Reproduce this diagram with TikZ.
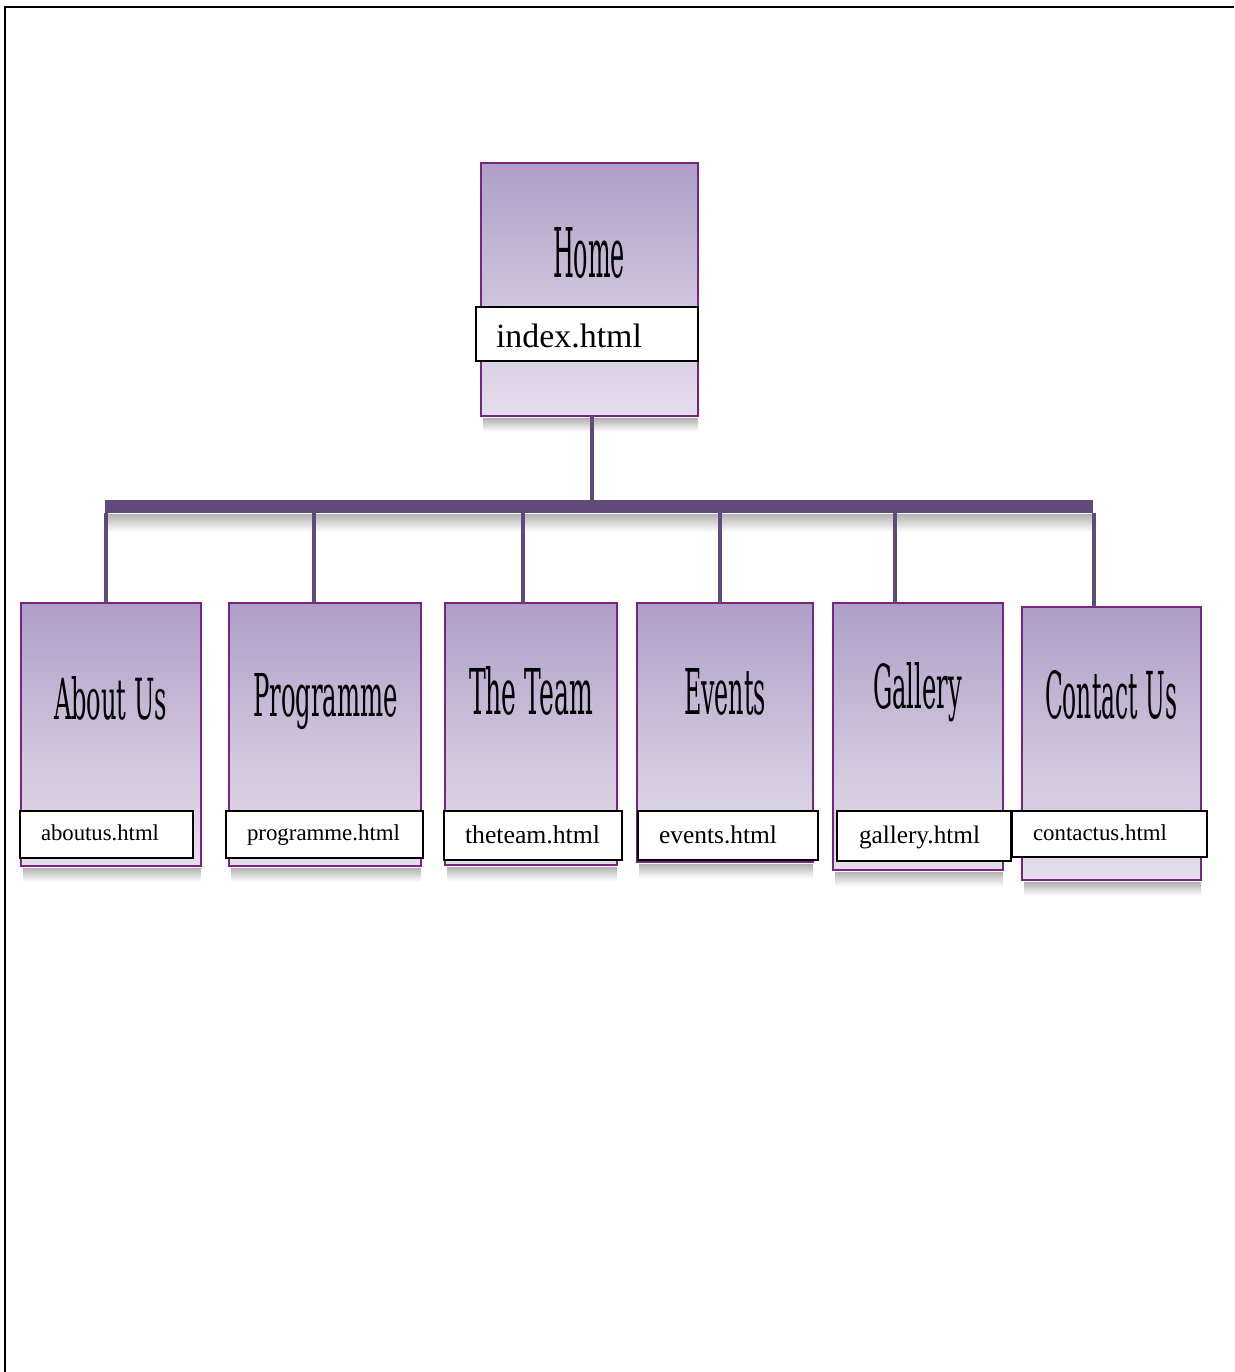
\documentclass[tikz,border=0pt]{standalone}
\usepackage{fontspec}
\usepackage{graphicx}
\setmainfont{Liberation Serif}
\newfontfamily\titlefont{DejaVu Serif}
\newfontfamily\lblfont{Liberation Serif}
\definecolor{boxedge}{HTML}{7A2383}
\definecolor{boxtop}{HTML}{AE9EC7}
\definecolor{boxbot}{HTML}{E4DDEB}
\definecolor{connc}{HTML}{5F4A7B}
\tikzset{
  pagebox/.style={draw=boxedge, line width=2.7pt, top color=boxtop, bottom color=boxbot, middle color=boxbot!55!boxtop, inner sep=0pt, outer sep=0pt, anchor=north west},
  lblbox/.style={draw=black, line width=1.8pt, fill=white, inner sep=0pt, outer sep=0pt, anchor=north west},
  conn/.style={draw=connc, line width=4pt},
  barstyle/.style={fill=connc, inner sep=0pt, outer sep=0pt, anchor=north west},
  shadowstyle/.style={top color=black!30, bottom color=white},
  ttl/.style={anchor=base west, inner sep=0pt, outer sep=0pt},
  lbltxt/.style={anchor=base west, inner sep=0pt, outer sep=0pt}
}
\begin{document}
\begin{tikzpicture}[x=1pt,y=-1pt]
\useasboundingbox (0,0) rectangle (1234,1372);
\fill[white] (0,0) rectangle (1234,1372);
% page frame
\draw[line width=2.8pt] (5,1372) -- (5,7) -- (1234,7);

% shadows
\shade[shadowstyle] (483,418) rectangle (698,432);
\shade[shadowstyle] (107,514) rectangle (1093,532);
\shade[shadowstyle] (23,868) rectangle (201,882);
\shade[shadowstyle] (231,868) rectangle (421,882);
\shade[shadowstyle] (447,867) rectangle (617,881);
\shade[shadowstyle] (639,864) rectangle (813,878);
\shade[shadowstyle] (835,872) rectangle (1003,886);
\shade[shadowstyle] (1024,882) rectangle (1201,896);

% bar
\node[barstyle, minimum width=988pt, minimum height=13pt] (bar) at (105,500) {};

% boxes
\node[pagebox, minimum width=217pt, minimum height=253pt] (home) at (481,163) {};
\node[pagebox, minimum width=180pt, minimum height=263pt] (about) at (21,603) {};
\node[pagebox, minimum width=192pt, minimum height=263pt] (prog) at (229,603) {};
\node[pagebox, minimum width=172pt, minimum height=262pt] (team) at (445,603) {};
\node[pagebox, minimum width=176pt, minimum height=259pt] (events) at (637,603) {};
\node[pagebox, minimum width=170pt, minimum height=267pt] (gallery) at (833,603) {};
\node[pagebox, minimum width=179pt, minimum height=273pt] (contact) at (1022,607) {};

% connector anchor points on child tops
\coordinate (cAbout) at (106,603);
\coordinate (cProg) at (314,603);
\coordinate (cTeam) at (523,603);
\coordinate (cEvents) at (720,603);
\coordinate (cGallery) at (895,603);
\coordinate (cContact) at (1094,607);
\coordinate (cHome) at (592,416);

% connectors
\draw[conn] (cHome) -- (cHome |- bar.north);
\draw[conn] (bar.south -| cAbout) -- (cAbout);
\draw[conn] (bar.south -| cProg) -- (cProg);
\draw[conn] (bar.south -| cTeam) -- (cTeam);
\draw[conn] (bar.south -| cEvents) -- (cEvents);
\draw[conn] (bar.south -| cGallery) -- (cGallery);
\draw[conn] (bar.south -| cContact) -- (cContact);

% titles
\node[ttl] (tHome) at (553,277) {\resizebox{72pt}{50pt}{\titlefont Home}};
\node[ttl] (tAbout) at (54,719) {\resizebox{113pt}{43pt}{\titlefont About Us}};
\node[ttl] (tProg) at (253,716) {\resizebox{145pt}{43pt}{\titlefont Programme}};
\node[ttl] (tTeam) at (469,714) {\resizebox{124pt}{48pt}{\titlefont The Team}};
\node[ttl] (tEvents) at (684,714) {\resizebox{82pt}{46pt}{\titlefont Events}};
\node[ttl] (tGallery) at (873,708) {\resizebox{89pt}{46pt}{\titlefont Gallery}};
\node[ttl] (tContact) at (1045,718) {\resizebox{132pt}{48pt}{\titlefont Contact Us}};

% file-name boxes
\node[lblbox, minimum width=222pt, minimum height=54pt] (lIndex) at (476,307) {};
\node[lblbox, minimum width=173pt, minimum height=47pt] (lAbout) at (20,811) {};
\node[lblbox, minimum width=197pt, minimum height=47pt] (lProg) at (226,811) {};
\node[lblbox, minimum width=178pt, minimum height=49pt] (lTeam) at (444,811) {};
\node[lblbox, minimum width=180pt, minimum height=49pt] (lEvents) at (638,811) {};
\node[lblbox, minimum width=174pt, minimum height=50pt] (lGallery) at (837,811) {};
\node[lblbox, minimum width=195pt, minimum height=46pt] (lContact) at (1012,811) {};

% file-name texts
\node[lbltxt] (xIndex) at (496,347) {\resizebox{146pt}{!}{\lblfont index.html}};
\node[lbltxt] (xAbout) at (41,840) {\resizebox{118pt}{!}{\lblfont aboutus.html}};
\node[lbltxt] (xProg) at (247,840) {\resizebox{153pt}{!}{\lblfont programme.html}};
\node[lbltxt] (xTeam) at (465,843) {\resizebox{135pt}{!}{\lblfont theteam.html}};
\node[lbltxt] (xEvents) at (659,843) {\resizebox{118pt}{!}{\lblfont events.html}};
\node[lbltxt] (xGallery) at (859,843) {\resizebox{121pt}{!}{\lblfont gallery.html}};
\node[lbltxt] (xContact) at (1033,840) {\resizebox{134pt}{!}{\lblfont contactus.html}};
\end{tikzpicture}
\end{document}
